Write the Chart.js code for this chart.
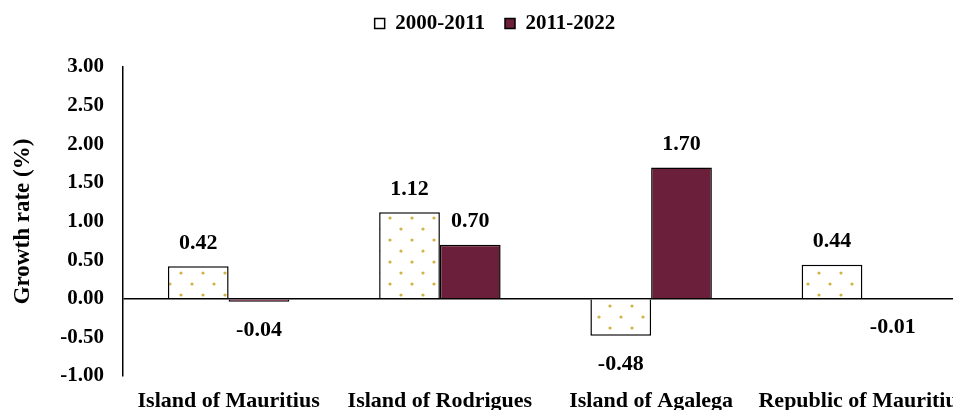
<!DOCTYPE html>
<html lang="en">
<head>
<meta charset="UTF-8">
<title>Growth rate</title>
<style>
  body { margin: 0; overflow: hidden; background: #fff; }
</style>
</head>
<body>
<canvas id="myChart" width="968" height="410"></canvas>
<script src="https://cdn.jsdelivr.net/npm/chart.js"></script>
<script>
const categories = ['Island of Mauritius', 'Island of Rodrigues', 'Island of Agalega', 'Republic of Mauritius'];
const series1 = [0.42, 1.12, -0.48, 0.44];   // 2000-2011
const series2 = [-0.04, 0.70, 1.70, -0.01];  // 2011-2022
const seriesNames = ['2000-2011', '2011-2022'];

const FONT = 'Liberation Serif';

// dotted fill for the first period
function dotPattern() {
    const c = document.createElement('canvas');
    c.width = 22; c.height = 22;
    const g = c.getContext('2d');
    g.fillStyle = '#ffffff';
    g.fillRect(0, 0, 22, 22);
    g.fillStyle = '#cfb444';
    [[5, 9], [16, 20]].forEach(p => {
        g.beginPath();
        g.arc(p[0], p[1], 1.6, 0, Math.PI * 2);
        g.fill();
    });
    return g.createPattern(c, 'repeat');
}

// fixed legend height so the plot starts where the original does,
// and nudge the legend a bit right like in the original
const legendHeight = {
    id: 'legendHeight',
    afterInit(chart) {
        const lg = chart.legend;
        const fit = lg.fit;
        lg.fit = function () {
            fit.call(this);
            this.height = 74;
        };
    },
    afterLayout(chart) {
        chart.legend.left += 11;
        chart.legend.right += 11;
    }
};

const valueLabels = {
    id: 'valueLabels',
    afterDatasetsDraw(chart) {
        const ctx = chart.ctx;
        ctx.save();
        ctx.font = 'bold 22px "' + FONT + '"';
        ctx.fillStyle = '#000';
        ctx.textAlign = 'center';
        ctx.textBaseline = 'middle';
        chart.data.datasets.forEach((ds, i) => {
            chart.getDatasetMeta(i).data.forEach((bar, j) => {
                const v = ds.data[j];
                const y = v >= 0 ? bar.y - 23 : bar.y + 28;
                ctx.fillText(v.toFixed(2), bar.x, y);
            });
        });
        ctx.restore();
    }
};

const ctx = document.getElementById('myChart');
new Chart(ctx, {
    type: 'bar',
    data: {
        labels: categories,
        datasets: [{
            label: seriesNames[0],
            data: series1,
            backgroundColor: dotPattern(),
            borderColor: '#000',
            borderWidth: 1.5
        }, {
            label: seriesNames[1],
            data: series2,
            backgroundColor: '#6b1f3b',
            borderColor: '#000',
            borderWidth: 1.5
        }]
    },
    options: {
        responsive: false,
        animation: false,
        layout: { padding: { top: -7, left: 0, right: 0, bottom: 0 } },
        datasets: { bar: { categoryPercentage: 0.575, barPercentage: 1 } },
        plugins: {
            legend: {
                position: 'top',
                labels: {
                    color: '#000',
                    font: { family: FONT, size: 21, weight: 'bold' },
                    boxWidth: 10,
                    boxHeight: 10,
                    padding: 20
                }
            },
            tooltip: { enabled: false }
        },
        scales: {
            x: {
                afterFit(scale) {
                    scale.height = 34;
                    scale.paddingLeft = 0;
                    scale.paddingRight = 0;
                },
                grid: { display: false },
                border: { display: false },
                ticks: {
                    color: '#000',
                    padding: 4,
                    maxRotation: 0,
                    autoSkip: false,
                    font: { family: FONT, size: 22, weight: 'bold' }
                }
            },
            y: {
                min: -1,
                max: 3,
                afterFit(scale) { scale.width = 123; },
                border: { display: true, color: '#000', width: 1.5 },
                grid: {
                    drawTicks: false,
                    color: c => c.tick && c.tick.value === 0 ? '#000' : 'rgba(0,0,0,0)',
                    lineWidth: 1.5
                },
                ticks: {
                    stepSize: 0.5,
                    padding: 19,
                    color: '#000',
                    font: { family: FONT, size: 21, weight: 'bold' },
                    callback: v => v.toFixed(2)
                },
                title: {
                    display: true,
                    text: 'Growth rate (%)',
                    color: '#000',
                    font: { family: FONT, size: 23, weight: 'bold' },
                    padding: { top: 9, bottom: 0 }
                }
            }
        }
    },
    plugins: [legendHeight, valueLabels]
});
</script>
</body>
</html>
